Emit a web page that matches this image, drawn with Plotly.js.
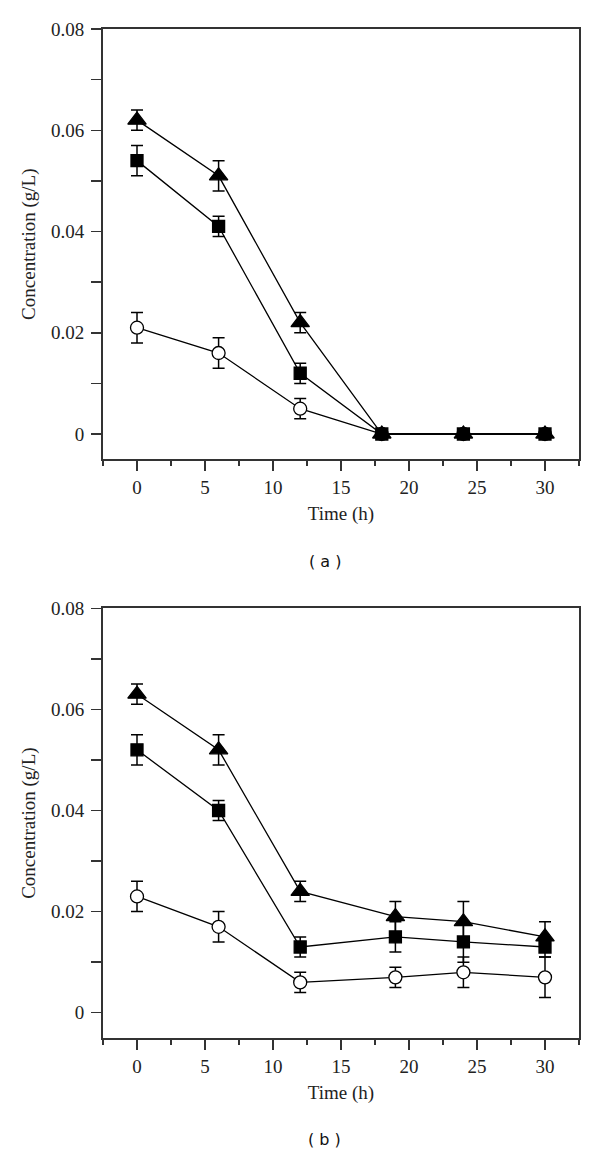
<!DOCTYPE html>
<html>
<head>
<meta charset="utf-8">
<script src="https://cdn.plot.ly/plotly-3.0.1.min.js"></script>
<style>
  html, body { margin: 0; padding: 0; background: #fff; }
  #chart { width: 600px; height: 1156px; }
</style>
</head>
<body>
<div id="chart"></div>
<script>
// panel (a)
const timeA = [0, 6, 12, 18, 24, 30];
const triA = [0.062, 0.051, 0.022, 0, 0, 0];
const triAErr = [0.002, 0.003, 0.002, 0, 0, 0];
const sqA = [0.054, 0.041, 0.012, 0, 0, 0];
const sqAErr = [0.003, 0.002, 0.002, 0, 0, 0];
const circA = [0.021, 0.016, 0.005, 0, 0, 0];
const circAErr = [0.003, 0.003, 0.002, 0, 0, 0];

// panel (b)
const timeB = [0, 6, 12, 19, 24, 30];
const triB = [0.063, 0.052, 0.024, 0.019, 0.018, 0.015];
const triBErr = [0.002, 0.003, 0.002, 0.003, 0.004, 0.003];
const sqB = [0.052, 0.040, 0.013, 0.015, 0.014, 0.013];
const sqBErr = [0.003, 0.002, 0.002, 0.003, 0.004, 0.002];
const circB = [0.023, 0.017, 0.006, 0.007, 0.008, 0.007];
const circBErr = [0.003, 0.003, 0.002, 0.002, 0.003, 0.004];

const xTicks = [0, 5, 10, 15, 20, 25, 30];
const yTicks = [0, 0.02, 0.04, 0.06, 0.08];
const yTickText = ["0", "0.02", "0.04", "0.06", "0.08"];

function series(x, y, err, symbol, size, fill, xa, ya) {
    return {
        x: x, y: y,
        xaxis: xa, yaxis: ya,
        type: "scatter",
        mode: "lines+markers",
        line: { color: "#000", width: 1.3 },
        marker: { symbol: symbol, size: size, color: fill, line: { color: "#000", width: 1.3 } },
        error_y: { type: "data", array: err, visible: true, color: "#000", thickness: 1.5, width: 6 },
        showlegend: false,
        cliponaxis: false
    };
}

const data = [
    series(timeA, circA, circAErr, "circle", 13, "#fff", "x", "y"),
    series(timeA, sqA, sqAErr, "square", 12, "#000", "x", "y"),
    series(timeA, triA, triAErr, "triangle-up", 16, "#000", "x", "y"),
    series(timeB, circB, circBErr, "circle", 13, "#fff", "x2", "y2"),
    series(timeB, sqB, sqBErr, "square", 12, "#000", "x2", "y2"),
    series(timeB, triB, triBErr, "triangle-up", 16, "#000", "x2", "y2")
];

const tickFont = { family: "Liberation Serif, Times New Roman, serif", size: 19, color: "#222" };

function xAxis(anchor) {
    return {
        anchor: anchor,
        range: [-2.5, 32.5],
        tickvals: xTicks,
        ticks: "outside", ticklen: 10, tickwidth: 1.5, tickcolor: "#333",
        minor: { dtick: 2.5, tick0: 0, ticks: "outside", ticklen: 5, tickwidth: 1.5, tickcolor: "#333" },
        showline: true, linecolor: "#333", linewidth: 2, mirror: true,
        showgrid: false, zeroline: false,
        tickfont: tickFont,
        title: { text: "Time (h)", font: tickFont, standoff: 10 }
    };
}

function yAxis(anchor, domain) {
    return {
        anchor: anchor,
        domain: domain,
        range: [-0.005, 0.08],
        tickvals: yTicks, ticktext: yTickText,
        ticks: "outside", ticklen: 10, tickwidth: 1.5, tickcolor: "#333",
        ticklabelstandoff: 3,
        minor: { dtick: 0.01, tick0: 0, ticks: "outside", ticklen: 10, tickwidth: 1.5, tickcolor: "#333" },
        showline: true, linecolor: "#333", linewidth: 2, mirror: true,
        showgrid: false, zeroline: false,
        tickfont: tickFont,
        title: { text: "Concentration (g/L)", font: tickFont, standoff: 10 }
    };
}

const layout = {
    width: 600, height: 1156,
    margin: { l: 103, r: 21, t: 29, b: 118 },
    paper_bgcolor: "#fff", plot_bgcolor: "#fff",
    xaxis: xAxis("y"),
    yaxis: yAxis("x", [0.5735, 1]),
    xaxis2: xAxis("y2"),
    yaxis2: yAxis("x2", [0, 0.4259]),
    annotations: [
        { text: "( a )", xref: "paper", yref: "paper", x: 0.466, y: 0.4722, xanchor: "center", yanchor: "middle",
          showarrow: false, font: { family: "DejaVu Sans, sans-serif", size: 16, color: "#111" } },
        { text: "( b )", xref: "paper", yref: "paper", x: 0.466, y: -0.101, xanchor: "center", yanchor: "middle",
          showarrow: false, font: { family: "DejaVu Sans, sans-serif", size: 16, color: "#111" } }
    ]
};

Plotly.newPlot("chart", data, layout, { displayModeBar: false, staticPlot: true });
</script>
</body>
</html>
